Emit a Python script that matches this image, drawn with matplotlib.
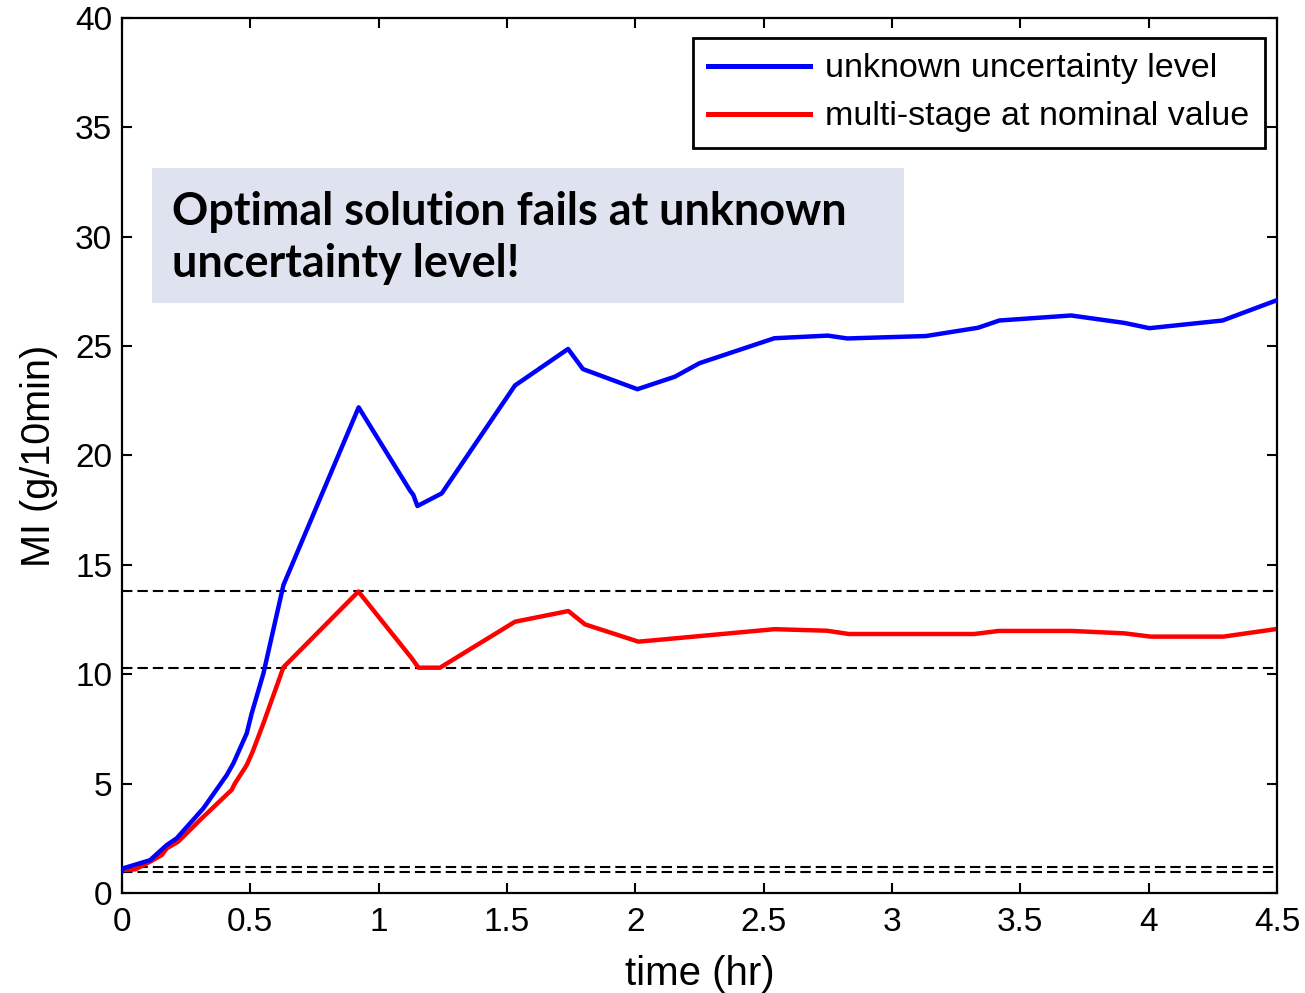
import numpy as np
import matplotlib
matplotlib.use('Agg')
import matplotlib.pyplot as plt
from matplotlib.patches import Rectangle

plt.rcParams['font.family'] = ['Liberation Sans', 'DejaVu Sans']

# MI trajectory with the unknown uncertainty level
t_unknown = [0.0, 0.005, 0.109, 0.174, 0.213, 0.317, 0.408, 0.434, 0.486, 0.505, 0.551, 0.629,
             0.922, 1.122, 1.135, 1.151, 1.246, 1.531, 1.738, 1.796, 2.008, 2.154, 2.25, 2.542,
             2.75, 2.826, 3.132, 3.336, 3.418, 3.698, 3.906, 4.003, 4.288, 4.5]
mi_unknown = [1.0, 1.13, 1.5, 2.19, 2.5, 3.87, 5.39, 5.93, 7.3, 8.2, 10.04, 14.08,
              22.2, 18.4, 18.2, 17.69, 18.27, 23.2, 24.87, 23.95, 23.03, 23.6, 24.22, 25.36,
              25.48, 25.35, 25.46, 25.84, 26.17, 26.4, 26.06, 25.82, 26.17, 27.1]

# multi-stage controller at the nominal value
t_nominal = [0.0, 0.051, 0.109, 0.155, 0.174, 0.219, 0.304, 0.427, 0.44, 0.486, 0.509, 0.551,
             0.629, 0.921, 1.129, 1.155, 1.239, 1.531, 1.739, 1.804, 2.012, 2.154, 2.542,
             2.746, 2.832, 3.321, 3.416, 3.699, 3.905, 4.008, 4.291, 4.5]
mi_nominal = [1.05, 1.08, 1.43, 1.74, 2.04, 2.35, 3.34, 4.71, 5.01, 5.85, 6.46, 7.76,
              10.32, 13.78, 10.73, 10.3, 10.3, 12.4, 12.89, 12.28, 11.49, 11.64, 12.06,
              11.99, 11.84, 11.84, 11.98, 11.98, 11.87, 11.72, 11.72, 12.07]

# product specification bounds
bounds = [13.8, 10.3, 1.2, 0.97]

fig = plt.figure(figsize=(13.05, 9.93), dpi=100)
ax = fig.add_axes([0.0935, 0.1007, 0.885, 0.8812])

for b in bounds:
    ax.axhline(b, color='k', ls=(0, (5, 2.4)), lw=1.5, zorder=1)

ax.plot(t_unknown, mi_unknown, color='#0000ff', lw=3.2, label='unknown uncertainty level', zorder=3)
ax.plot(t_nominal, mi_nominal, color='#ff0000', lw=3.2, label='multi-stage at nominal value', zorder=2)

ax.set_xlim(0, 4.5)
ax.set_ylim(0, 40)
ax.set_xticks(np.arange(0, 4.51, 0.5))
ax.set_xticklabels(['0', '0.5', '1', '1.5', '2', '2.5', '3', '3.5', '4', '4.5'])
ax.set_yticks(np.arange(0, 41, 5))
ax.tick_params(direction='in', length=7, width=1.5, labelsize=24, top=True, right=True)
ax.tick_params(axis='x', pad=10)
ax.tick_params(axis='y', pad=7)
for s in ax.spines.values():
    s.set_linewidth(1.6)

ax.set_xlabel('time (hr)', fontsize=29, labelpad=12)
ax.set_ylabel('MI (g/10min)', fontsize=28.5, labelpad=12)

leg = ax.legend(loc='upper right', bbox_to_anchor=(0.9896, 0.977), fontsize=24.5, frameon=True,
                fancybox=False, edgecolor='k', handlelength=3.0, borderpad=0.45,
                labelspacing=0.5, handletextpad=0.45, borderaxespad=0)
leg.get_frame().set_linewidth(2)
leg.get_frame().set_alpha(1)
for h in leg.get_lines():
    h.set_linewidth(3.6)

# annotation panel
ax.add_patch(Rectangle((0.026, 0.674), 0.651, 0.155, transform=ax.transAxes,
                       fc='#dfe3ef', ec='none', zorder=4))
ax.text(0.043, 0.704, 'Optimal solution fails at unknown\nuncertainty level!',
        transform=ax.transAxes, fontsize=32.4, fontweight='bold', family=['Lato', 'DejaVu Sans'],
        va='baseline', ha='left', linespacing=1.3, zorder=5)

fig.savefig('out.png', dpi=100)
